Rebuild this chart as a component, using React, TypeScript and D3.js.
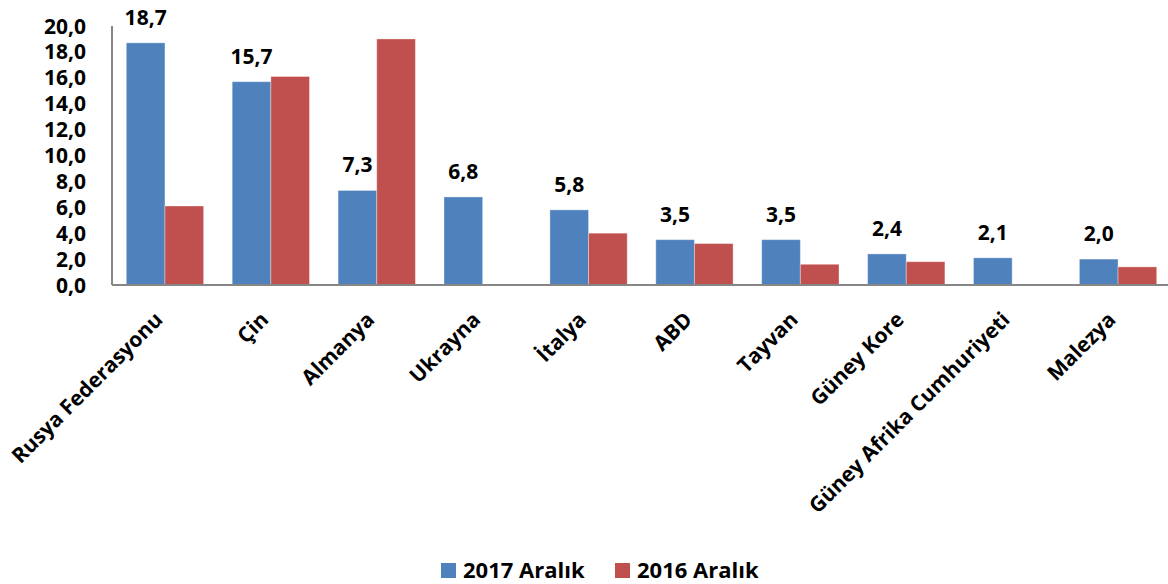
import React from "react";
import * as d3 from "d3";

const categories = ["Rusya Federasyonu", "Çin", "Almanya", "Ukrayna", "İtalya", "ABD", "Tayvan", "Güney Kore", "Güney Afrika Cumhuriyeti", "Malezya"];
const series2017 = [18.7, 15.7, 7.3, 6.8, 5.8, 3.5, 3.5, 2.4, 2.1, 2.0];
const series2016 = [6.1, 16.1, 19.0, 0, 4.0, 3.2, 1.6, 1.8, 0, 1.4];
const yTicks = [0, 2, 4, 6, 8, 10, 12, 14, 16, 18, 20];
const seriesNames = ["2017 Aralık", "2016 Aralık"];
const colors = ["#4F81BD", "#C0504D"];

const W = 1168;
const H = 584;
const FONT = "'Open Sans', Lato, sans-serif";

export default function App() {
  const x0 = 112;
  const step = 105.9;
  const x = d3.scaleBand<string>().domain(categories).range([x0, x0 + step * categories.length]).paddingInner(0.27).paddingOuter(0.135);
  const xs = d3.scaleBand<number>().domain([0, 1]).range([0, x.bandwidth()]);
  const y = d3.scaleLinear().domain([0, 20]).range([285, 26]);
  const fmt = (v: number) => v.toFixed(1).replace(".", ",");

  return (
    <div style={{ position: "absolute", left: 0, top: 0 }}>
      <svg width={W} height={H} style={{ display: "block", background: "#fff" }} fontFamily={FONT}>
        {/* bars */}
        {categories.map((c, i) => (
          <g key={c} transform={`translate(${x(c)},0)`}>
            {[series2017[i], series2016[i]].map((v, s) =>
              v > 0 ? (
                <rect key={s} x={xs(s)} y={y(v)} width={xs.bandwidth()} height={y(0) - y(v)} fill={colors[s]} stroke="#ffffff" strokeOpacity={0.35} strokeWidth={1} />
              ) : null
            )}
            <text x={xs(0)! + xs.bandwidth() / 2} y={y(series2017[i]) - 18} textAnchor="middle" fontWeight="bold" fontSize={21} fill="#000">
              {fmt(series2017[i])}
            </text>
          </g>
        ))}
        {/* axes */}
        <line x1={x0} x2={x0} y1={y(20)} y2={y(0)} stroke="#868686" strokeWidth={2} />
        <line x1={x0} x2={W} y1={y(0)} y2={y(0)} stroke="#868686" strokeWidth={2} />
        {yTicks.map((t) => (
          <text key={t} x={86} y={y(t)} dy="0.36em" textAnchor="end" fontWeight="bold" fontSize={21} fill="#000">
            {fmt(t)}
          </text>
        ))}
        {categories.map((c) => {
          const cx = x(c)! + x.bandwidth() / 2 - 1;
          const cy = y(0) + 36;
          return (
            <text key={c} transform={`translate(${cx},${cy}) rotate(-45)`} textAnchor="end" fontWeight="bold" fontSize={21} fill="#000">
              {c}
            </text>
          );
        })}
        {/* legend */}
        {seriesNames.map((n, i) => {
          const lx = [441, 615][i];
          return (
            <g key={n}>
              <rect x={lx} y={563} width={15} height={15} fill={colors[i]} />
              <text x={lx + 22} y={578} fontWeight="bold" fontSize={22} fill="#000">
                {n}
              </text>
            </g>
          );
        })}
      </svg>
    </div>
  );
}
